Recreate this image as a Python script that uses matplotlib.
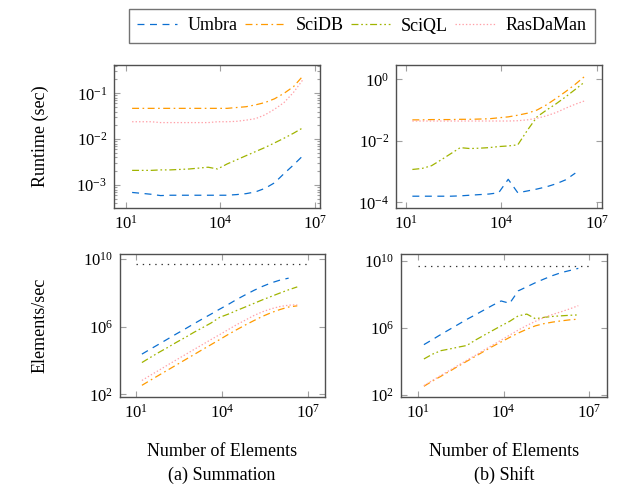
import numpy as np
import matplotlib
matplotlib.use("Agg")
import matplotlib.pyplot as plt
from matplotlib.ticker import LogLocator, NullLocator, LogFormatterSciNotation, NullFormatter

plt.rcParams['font.family'] = ['Liberation Serif', 'DejaVu Serif']
plt.rcParams['mathtext.fontset'] = 'custom'
plt.rcParams['mathtext.rm'] = 'Liberation Serif'
plt.rcParams['mathtext.it'] = 'Liberation Serif:italic'
plt.rcParams['lines.scale_dashes'] = False

# number of elements (2^4 .. 2^22)
n_elems = [16, 32, 64, 128, 256, 512, 1024, 2048, 4096, 8192, 16384, 32768,
           65536, 131072, 262144, 524288, 1048576, 2097152, 4194304]
n_short = n_elems[:-1]

# runtime (sec), summation
sum_umbra = [6.9e-4, 6.6e-4, 6.3e-4, 5.9e-4, 6.0e-4, 6.0e-4, 6.0e-4, 6.0e-4, 6.0e-4, 6.0e-4,
             6.0e-4, 6.2e-4, 6.5e-4, 7.1e-4, 8.5e-4, 1.12e-3, 1.78e-3, 2.75e-3, 4.4e-3]
sum_scidb = [0.047, 0.047, 0.047, 0.047, 0.047, 0.047, 0.047, 0.047, 0.047, 0.047,
             0.047, 0.049, 0.051, 0.056, 0.063, 0.076, 0.10, 0.14, 0.24]
sum_sciql = [2.09e-3, 2.09e-3, 2.09e-3, 2.14e-3, 2.14e-3, 2.19e-3, 2.24e-3, 2.34e-3, 2.45e-3, 2.24e-3,
             2.88e-3, 3.55e-3, 4.37e-3, 5.37e-3, 6.6e-3, 8.3e-3, 1.05e-2, 1.35e-2, 1.78e-2]
sum_rasdaman = [0.024, 0.024, 0.024, 0.023, 0.023, 0.023, 0.023, 0.023, 0.023, 0.024,
                0.024, 0.0245, 0.026, 0.028, 0.034, 0.045, 0.063, 0.105, 0.20]

# runtime (sec), shift
shift_umbra = [1.58e-4, 1.58e-4, 1.58e-4, 1.58e-4, 1.58e-4, 1.62e-4, 1.7e-4, 1.78e-4, 1.86e-4,
               2.04e-4, 5.6e-4, 2.04e-4, 2.34e-4, 2.7e-4, 3.2e-4, 4.0e-4, 5.4e-4, 8.9e-4]
shift_scidb = [0.048, 0.048, 0.049, 0.049, 0.049, 0.050, 0.050, 0.051, 0.052, 0.056,
               0.060, 0.068, 0.079, 0.10, 0.148, 0.24, 0.40, 0.69, 1.26]
shift_sciql = [1.17e-3, 1.26e-3, 1.55e-3, 2.4e-3, 3.8e-3, 6.0e-3, 5.6e-3, 5.75e-3, 6.0e-3, 6.5e-3,
               6.8e-3, 7.4e-3, 0.022, 0.060, 0.10, 0.16, 0.27, 0.47, 0.83]
shift_rasdaman = [0.044, 0.044, 0.044, 0.044, 0.044, 0.044, 0.044, 0.044, 0.044, 0.044,
                  0.044, 0.045, 0.048, 0.054, 0.065, 0.083, 0.115, 0.155, 0.20]

# elements/sec, summation
sum_tp_umbra = [2.4e4, 4.8e4, 9.5e4, 1.9e5, 3.8e5, 7.4e5, 1.48e6, 2.9e6, 5.6e6, 1.1e7,
                2.1e7, 4.2e7, 7.9e7, 1.45e8, 2.5e8, 4.0e8, 5.8e8, 7.6e8]
sum_tp_scidb = [340, 690, 1380, 2750, 5500, 1.1e4, 2.2e4, 4.4e4, 8.7e4, 1.74e5,
                3.5e5, 6.8e5, 1.29e6, 2.35e6, 4.2e6, 6.9e6, 1.05e7, 1.48e7, 1.74e7]
sum_tp_sciql = [7.6e3, 1.55e4, 3.1e4, 6.0e4, 1.2e5, 2.3e5, 4.6e5, 8.7e5, 1.66e6, 3.6e6,
                5.6e6, 9.3e6, 1.5e7, 2.45e7, 4.0e7, 6.3e7, 1.0e8, 1.55e8, 2.3e8]
sum_tp_rasdaman = [660, 1350, 2700, 5500, 1.1e4, 2.2e4, 4.4e4, 8.7e4, 1.74e5, 3.4e5,
                   6.8e5, 1.35e6, 2.5e6, 4.7e6, 7.8e6, 1.17e7, 1.58e7, 1.9e7, 2.0e7]

# elements/sec, shift
shift_tp_umbra = [1.0e5, 2.0e5, 4.1e5, 8.1e5, 1.6e6, 3.2e6, 6.0e6, 1.15e7, 2.2e7, 4.0e7,
                  2.9e7, 1.6e8, 2.8e8, 4.9e8, 8.1e8, 1.3e9, 1.95e9, 2.6e9, 3.5e9]
shift_tp_scidb = [330, 680, 1320, 2600, 5200, 1.02e4, 2.0e4, 4.0e4, 7.8e4, 1.45e5,
                  2.7e5, 4.9e5, 8.3e5, 1.32e6, 1.78e6, 2.2e6, 2.6e6, 3.0e6, 3.3e6]
shift_tp_sciql = [1.4e4, 2.7e4, 4.4e4, 5.5e4, 7.1e4, 8.9e4, 1.86e5, 3.6e5, 6.9e5, 1.32e6,
                  2.45e6, 5.2e6, 6.6e6, 3.5e6, 4.2e6, 4.8e6, 5.2e6, 5.6e6, 5.9e6]
shift_tp_rasdaman = [360, 740, 1480, 2950, 5900, 1.17e4, 2.3e4, 4.7e4, 9.3e4, 1.86e5,
                     3.7e5, 7.4e5, 1.38e6, 2.45e6, 4.1e6, 6.3e6, 9.1e6, 1.35e7, 2.1e7]

# hardware bound (dotted black line)
bound_x = [10, 1e7]
bound_y = [5e9, 5e9]

systems = ["Umbra", "SciDB", "SciQL", "RasDaMan"]
colors = ["#0b6fd1", "#ff9a00", "#a0b400", "#ffa0a8"]
dashes = [[5, 4], [5, 2.5, 1.2, 2.5], [5, 2, 1.2, 2, 1.2, 2], [1, 1.5]]

W, H = 619, 488
fig = plt.figure(figsize=(W / 100, H / 100), dpi=100)


def box(l, t, r, b):
    return fig.add_axes([l / W, 1 - b / H, (r - l) / W, (b - t) / H])


def style(ax, xlim, ylim, yticks, yminor):
    ax.set_xscale('log')
    ax.set_yscale('log')
    ax.set_xlim(10 ** xlim[0], 10 ** xlim[1])
    ax.set_ylim(10 ** ylim[0], 10 ** ylim[1])
    ax.set_xticks([1e1, 1e4, 1e7])
    ax.xaxis.set_minor_locator(NullLocator())
    ax.set_yticks(yticks)
    if yminor:
        ax.yaxis.set_minor_locator(LogLocator(base=10, subs=np.arange(2, 10), numticks=20))
    else:
        ax.yaxis.set_minor_locator(NullLocator())
    ax.xaxis.set_major_formatter(LogFormatterSciNotation())
    ax.yaxis.set_major_formatter(LogFormatterSciNotation())
    ax.yaxis.set_minor_formatter(NullFormatter())
    ax.tick_params(which='both', direction='in', top=True, right=True,
                   color='#a0a0a0', width=0.8, labelsize=12, pad=5)
    ax.tick_params(which='major', length=4.5)
    ax.tick_params(which='minor', length=2.5)
    for s in ax.spines.values():
        s.set_color('#505050')
        s.set_linewidth(1.0)


def draw(ax, xs, series):
    handles = []
    for x, y, c, d, name in zip(xs, series, colors, dashes, systems):
        h, = ax.plot(x, y, color=c, lw=0.9, dashes=d, label=name)
        handles.append(h)
    return handles


ax_tl = box(114, 65, 320, 208)
ax_tr = box(396, 65, 602, 208)
ax_bl = box(120, 254, 325, 397)
ax_br = box(401, 254, 607, 397)

handles = draw(ax_tl, [n_elems] * 4, [sum_umbra, sum_scidb, sum_sciql, sum_rasdaman])
draw(ax_tr, [n_short, n_elems, n_elems, n_elems], [shift_umbra, shift_scidb, shift_sciql, shift_rasdaman])
draw(ax_bl, [n_short, n_elems, n_elems, n_elems], [sum_tp_umbra, sum_tp_scidb, sum_tp_sciql, sum_tp_rasdaman])
draw(ax_br, [n_elems] * 4, [shift_tp_umbra, shift_tp_scidb, shift_tp_sciql, shift_tp_rasdaman])
for ax in (ax_bl, ax_br):
    ax.plot(bound_x, bound_y, color='#333333', lw=0.9, dashes=[1, 3.5])

style(ax_tl, (0.63, 7.16), (-3.50, -0.383), [1e-3, 1e-2, 1e-1], True)
style(ax_tr, (0.69, 7.16), (-4.185, 0.465), [1e-4, 1e-2, 1e0], False)
style(ax_bl, (0.44, 7.59), (1.84, 10.31), [1e2, 1e6, 1e10], False)
style(ax_br, (0.40, 7.63), (1.88, 10.40), [1e2, 1e6, 1e10], False)

fig.text(40 / W, 1 - 136 / H, "Runtime (sec)", rotation=90, ha='center', va='center', fontsize=13)
fig.text(40 / W, 1 - 325 / H, "Elements/sec", rotation=90, ha='center', va='center', fontsize=13)
fig.text(222 / W, 1 - 451 / H, "Number of Elements", ha='center', va='center', fontsize=13)
fig.text(504 / W, 1 - 451 / H, "Number of Elements", ha='center', va='center', fontsize=13)
fig.text(222 / W, 1 - 475 / H, "(a) Summation", ha='center', va='center', fontsize=13)
fig.text(504 / W, 1 - 475 / H, "(b) Shift", ha='center', va='center', fontsize=13)

leg = fig.legend(handles, systems, loc='center', bbox_to_anchor=(362 / W, 1 - 26 / H),
                 ncol=4, frameon=True, fancybox=False, fontsize=13, handlelength=2.2,
                 handletextpad=0.6, columnspacing=0.4, borderpad=0.45)
leg.get_frame().set_edgecolor('#505050')
leg.get_frame().set_linewidth(1.0)

fig.savefig("out.png", dpi=100)
